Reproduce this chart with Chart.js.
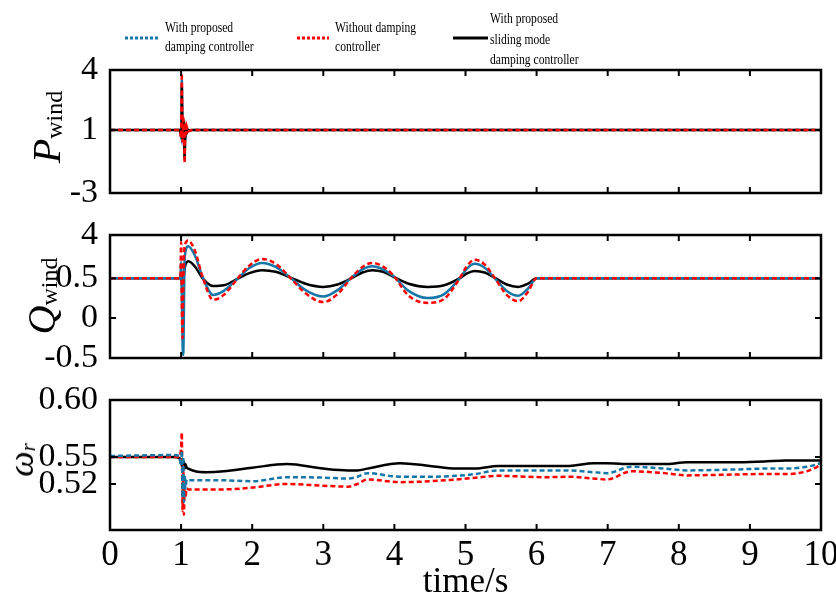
<!DOCTYPE html>
<html>
<head>
<meta charset="utf-8">
<script src="https://cdn.jsdelivr.net/npm/chart.js@4"></script>
<style>
body { margin: 0; background: #fff; }
#wrap { position: relative; width: 836px; height: 597px; font-family: 'Liberation Serif', serif; }
canvas { position: absolute; left: 0; top: 0; }
.ytitle { position: absolute; transform: translate(-50%, -50%) rotate(-90deg); white-space: nowrap; font-size: 40px; line-height: 1; }
.ytitle sub { font-size: 24px; vertical-align: baseline; position: relative; top: 0.1em; font-style: normal; }
.leg { position: absolute; font-size: 14.5px; line-height: 19px; white-space: nowrap; transform: scaleX(0.8); transform-origin: 0 0; }
.legline { position: absolute; }
</style>
</head>
<body>
<div id="wrap">
  <canvas id="cP" width="836" height="597"></canvas>
  <canvas id="cQ" width="836" height="597"></canvas>
  <canvas id="cW" width="836" height="597"></canvas>

  <svg class="legline" style="left:125px;top:35px" width="34" height="6"><line x1="0" y1="3" x2="34" y2="3" stroke="#1477a8" stroke-width="3" stroke-dasharray="3 2"/></svg>
  <div class="leg" style="left:165px;top:18px">With proposed<br>damping controller</div>
  <svg class="legline" style="left:297px;top:35px" width="32" height="6"><line x1="0" y1="3" x2="32" y2="3" stroke="#ff0000" stroke-width="3" stroke-dasharray="3 2"/></svg>
  <div class="leg" style="left:335px;top:18px">Without damping<br>controller</div>
  <svg class="legline" style="left:453px;top:35px" width="35" height="6"><line x1="0" y1="3" x2="35" y2="3" stroke="#000" stroke-width="3"/></svg>
  <div class="leg" style="left:490px;top:8px;line-height:20.5px">With proposed<br>sliding mode<br>damping controller</div>

  <div class="ytitle" style="left:47px;top:127px"><i>P</i><sub>wind</sub></div>
  <div class="ytitle" style="left:42px;top:296px"><i>Q</i><sub>wind</sub></div>
  <div class="ytitle" style="left:21px;top:460px;font-size:36px"><i>ω</i><sub style="font-style:italic;font-size:21px">r</sub></div>
</div>
<script>
// P_wind panel
var pTime  = [0, 0.98, 1.0, 1.01, 1.02, 1.03, 1.04, 1.05, 1.06, 1.07, 1.08, 1.1, 1.15, 10];
var pBlue  = [1, 1, 0.6, 4.3, 0.3, 1.7, 0.7, -0.9, 1.4, 0.8, 1.1, 0.95, 1, 1];
var pRed   = [1, 1, 0.5, 4.6, 0.2, 1.9, 0.6, -1.1, 1.5, 0.7, 1.2, 0.9, 1, 1];
var pBlack = [1, 1, 0.7, 3.9, 0.4, 1.6, 0.8, -0.8, 1.3, 0.8, 1.1, 0.95, 1, 1];
var pTickValues = [-3, 1, 4.8];
var pTickLabels = ['-3', '1', '4'];

// Q_wind panel
var qTime  = [0, 0.99, 1.0, 1.01, 1.02, 1.03, 1.05, 1.1, 1.2, 1.3, 1.45, 1.6, 1.79, 1.95, 2.14, 2.33, 2.53, 2.75, 3.0, 3.2, 3.4, 3.55, 3.69, 3.84, 3.98, 4.2, 4.47, 4.7, 4.92, 5.02, 5.13, 5.27, 5.42, 5.58, 5.74, 5.88, 6.0, 10];
var qBlue  = [0.5, 0.5, 0.7, 0.3, -0.3, -0.46, 0.75, 0.90, 0.77, 0.52, 0.29, 0.34, 0.49, 0.62, 0.69, 0.64, 0.51, 0.35, 0.27, 0.35, 0.51, 0.61, 0.65, 0.61, 0.53, 0.34, 0.25, 0.30, 0.50, 0.62, 0.68, 0.63, 0.49, 0.34, 0.28, 0.37, 0.5, 0.5];
var qRed   = [0.5, 0.5, 0.95, 0.2, -0.25, 0.4, 0.9, 0.97, 0.83, 0.52, 0.23, 0.29, 0.49, 0.65, 0.74, 0.68, 0.51, 0.31, 0.20, 0.30, 0.51, 0.64, 0.69, 0.645, 0.54, 0.28, 0.19, 0.24, 0.50, 0.65, 0.73, 0.67, 0.49, 0.29, 0.21, 0.33, 0.5, 0.5];
var qBlack = [0.5, 0.5, 0.55, 0.45, 0.3, 0.45, 0.62, 0.71, 0.64, 0.50, 0.40, 0.41, 0.49, 0.56, 0.60, 0.58, 0.51, 0.43, 0.39, 0.42, 0.50, 0.57, 0.60, 0.58, 0.52, 0.43, 0.39, 0.41, 0.50, 0.56, 0.59, 0.57, 0.50, 0.42, 0.39, 0.43, 0.5, 0.5];
var qTickValues = [-0.5, 0, 0.5, 1.04];
var qTickLabels = ['-0.5', '0', '0.5', '4'];

// omega_r panel
var wTime  = [0, 0.9, 0.97, 1.0, 1.01, 1.02, 1.03, 1.04, 1.05, 1.06, 1.08, 1.1, 1.2, 1.36, 1.6, 2.0, 2.49, 3.0, 3.35, 3.48, 3.62, 4.08, 4.5, 4.87, 5.14, 5.46, 6.13, 6.46, 6.8, 6.99, 7.33, 7.8, 8.12, 8.78, 9.2, 9.5, 9.8, 10];
var wBlue  = [0.551, 0.552, 0.551, 0.54, 0.557, 0.505, 0.55, 0.50, 0.53, 0.515, 0.525, 0.524, 0.524, 0.524, 0.524, 0.523, 0.5275, 0.527, 0.526, 0.528, 0.532, 0.528, 0.528, 0.529, 0.531, 0.535, 0.535, 0.535, 0.533, 0.532, 0.539, 0.537, 0.535, 0.536, 0.537, 0.537, 0.539, 0.543];
var wRed   = [0.55, 0.55, 0.55, 0.56, 0.577, 0.49, 0.54, 0.486, 0.52, 0.505, 0.515, 0.514, 0.514, 0.514, 0.514, 0.516, 0.52, 0.518, 0.517, 0.52, 0.525, 0.522, 0.523, 0.525, 0.527, 0.529, 0.5275, 0.528, 0.526, 0.525, 0.534, 0.532, 0.5295, 0.5305, 0.531, 0.531, 0.534, 0.541];
var wBlack = [0.55, 0.55, 0.549, 0.546, 0.540, 0.548, 0.538, 0.545, 0.537, 0.542, 0.538, 0.537, 0.534, 0.533, 0.534, 0.538, 0.542, 0.537, 0.535, 0.535, 0.537, 0.543, 0.540, 0.537, 0.537, 0.540, 0.540, 0.540, 0.543, 0.543, 0.542, 0.542, 0.544, 0.544, 0.545, 0.546, 0.546, 0.546];
var wTickValues = [0.52, 0.55, 0.613];
var wTickLabels = ['0.52', '0.55', '0.60'];

var xTicks = [0, 1, 2, 3, 4, 5, 6, 7, 8, 9, 10];

var BLUE = '#1477a8', RED = '#ff0000', BLACK = '#000000';
Chart.defaults.font.family = "'Liberation Serif', serif";
Chart.defaults.color = '#000';

function pts(t, v) {
  return t.map(function (x, i) { return { x: x, y: v[i] }; });
}

// frame with inward ticks on all four sides
var framePlugin = {
  id: 'frame',
  afterDraw: function (chart) {
    var ctx = chart.ctx, a = chart.chartArea, sx = chart.scales.x, sy = chart.scales.y;
    ctx.save();
    ctx.strokeStyle = '#000';
    ctx.lineWidth = 2;
    ctx.beginPath();
    sx.ticks.forEach(function (t) {
      var x = sx.getPixelForValue(t.value);
      ctx.moveTo(x, a.top); ctx.lineTo(x, a.top + 6);
      ctx.moveTo(x, a.bottom); ctx.lineTo(x, a.bottom - 6);
    });
    sy.ticks.forEach(function (t) {
      var y = sy.getPixelForValue(t.value);
      ctx.moveTo(a.left, y); ctx.lineTo(a.left + 6, y);
      ctx.moveTo(a.right, y); ctx.lineTo(a.right - 6, y);
    });
    ctx.stroke();
    ctx.lineWidth = 2.5;
    ctx.strokeRect(a.left, a.top, a.right - a.left, a.bottom - a.top);
    ctx.restore();
  }
};

function makePanel(id, time, blue, red, black, tickValues, tickLabels, yMin, yMax, top, bottom, showX, opts) {
  var ds = [
    { data: pts(time, blue), borderColor: BLUE, borderWidth: 2.5, borderDash: opts.blueDash },
    { data: pts(time, red), borderColor: RED, borderWidth: 2.5, borderDash: [5, 3] },
    { data: pts(time, black), borderColor: BLACK, borderWidth: 2.5 }
  ];
  if (opts.order) ds = opts.order.map(function (i) { return ds[i]; });
  return new Chart(document.getElementById(id), {
    type: 'line',
    data: { datasets: ds },
    options: {
      responsive: false,
      animation: false,
      events: [],
      layout: { padding: { top: top, bottom: bottom, left: 0, right: 15 } },
      elements: {
        point: { radius: 0 },
        line: { cubicInterpolationMode: opts.smooth ? 'monotone' : 'default', tension: 0 }
      },
      plugins: { legend: { display: false }, tooltip: { enabled: false } },
      scales: {
        x: {
          type: 'linear', min: 0, max: 10,
          grid: { display: false },
          border: { display: false },
          afterBuildTicks: function (s) { s.ticks = xTicks.map(function (v) { return { value: v }; }); },
          ticks: { display: showX, font: { size: 35 }, padding: -3, maxRotation: 0, autoSkip: false },
          title: { display: showX, text: 'time/s', font: { size: 35, lineHeight: 1 }, padding: { top: 0, bottom: -3 } },
          afterFit: function (s) { s.height = showX ? 67 : 0; }
        },
        y: {
          type: 'linear', min: yMin, max: yMax,
          grid: { display: false },
          border: { display: false },
          afterBuildTicks: function (s) { s.ticks = tickValues.map(function (v) { return { value: v }; }); },
          ticks: {
            font: { size: 34 }, padding: 4, autoSkip: false,
            callback: function (v) { return tickLabels[tickValues.indexOf(v)]; }
          },
          afterFit: function (s) { s.width = 110; }
        }
      }
    },
    plugins: [framePlugin]
  });
}

makePanel('cP', pTime, pBlue, pRed, pBlack, pTickValues, pTickLabels, -3, 4.8, 70, 404, false,
  { blueDash: [5, 3], smooth: false, order: [1, 2, 0] });
makePanel('cQ', qTime, qBlue, qRed, qBlack, qTickValues, qTickLabels, -0.5, 1.04, 235, 239, false,
  { blueDash: [], smooth: true, order: [1, 0, 2] });
makePanel('cW', wTime, wBlue, wRed, wBlack, wTickValues, wTickLabels, 0.469, 0.613, 400, 0, true,
  { blueDash: [5, 3], smooth: true, order: [0, 1, 2] });
</script>
</body>
</html>
